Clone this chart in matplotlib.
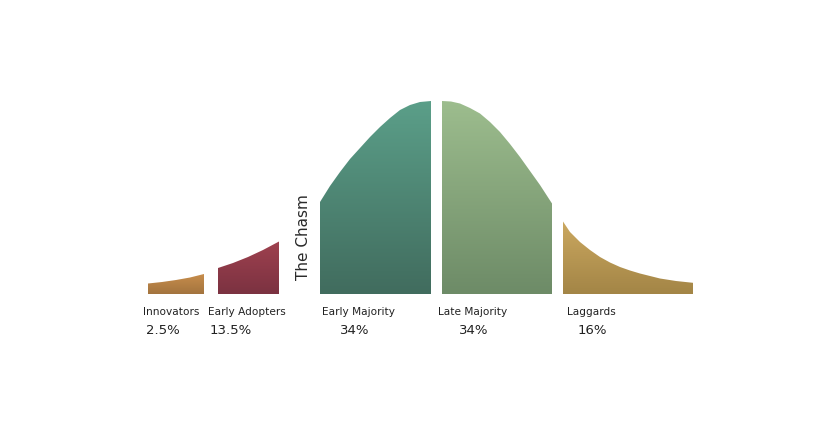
import numpy as np
import matplotlib
matplotlib.use("Agg")
import matplotlib.pyplot as plt
from matplotlib.colors import LinearSegmentedColormap

# ---- data ----
segments = ["Innovators", "Early Adopters", "Early Majority", "Late Majority", "Laggards"]
shares = ["2.5%", "13.5%", "34%", "34%", "16%"]

# curve profile of each segment: position along the adoption axis and height of the curve
innov_x = [148, 162, 176, 190, 204]
innov_h = [10.5, 12, 14, 16.5, 20]
early_ad_x = [218, 233, 248, 263, 279]
early_ad_h = [26, 31, 37, 44, 52.5]
early_maj_x = [320, 330, 340, 350, 360, 370, 380, 390, 400, 410, 420, 431]
early_maj_h = [92, 108, 122, 135, 146, 157, 167, 176, 184, 189, 192, 193]
late_maj_x = [442, 451, 460, 470, 480, 490, 500, 510, 520, 530, 540, 552]
late_maj_h = [193, 192.5, 190.5, 186, 180.5, 172, 162, 150, 137, 123, 109, 90.5]
lagg_x = [563, 570, 580, 590, 600, 610, 620, 630, 640, 650, 660, 676, 693]
lagg_h = [72.5, 62, 52, 44, 37, 31.5, 27, 23.5, 20.5, 18, 15.5, 13, 11.2]

chasm_label = "The Chasm"

# ---- styles ----
top_colors = ["#c78d4c", "#9f414f", "#5b9f89", "#9dbd8e", "#cba860"]
bot_colors = ["#a3743e", "#7b3241", "#416c5e", "#6d8b67", "#a38546"]
label_x = [171.5, 247, 359, 473, 591.5]
pct_x = [162.5, 231, 355, 474, 592.5]

profiles = [(innov_x, innov_h), (early_ad_x, early_ad_h), (early_maj_x, early_maj_h),
            (late_maj_x, late_maj_h), (lagg_x, lagg_h)]

fig = plt.figure(figsize=(8.4, 4.3), dpi=100)
ax = fig.add_axes([0, 0, 1, 1])
ax.set_xlim(0, 840)
ax.set_ylim(-136, 294)
ax.axis("off")

for i, (xs, hs) in enumerate(profiles):
    xs = np.asarray(xs, float)
    hs = np.asarray(hs, float)
    poly = ax.fill_between(xs, 0, hs, color="none", lw=0)
    cmap = LinearSegmentedColormap.from_list("g%d" % i, [bot_colors[i], top_colors[i]])
    grad = np.linspace(0, 1, 256).reshape(-1, 1)
    im = ax.imshow(grad, cmap=cmap, origin="lower", aspect="auto",
                   extent=[xs.min(), xs.max(), 0, hs.max()], interpolation="bilinear")
    im.set_clip_path(poly.get_paths()[0], transform=ax.transData)
    ax.text(label_x[i], -17.7, segments[i], ha="center", va="center",
            fontsize=7.6, color="#222222", family="DejaVu Sans")
    ax.text(pct_x[i], -36, shares[i], ha="center", va="center",
            fontsize=9.5, color="#222222", family="DejaVu Sans")

ax.text(303, 294 - 236.7, chasm_label, rotation=90, ha="center", va="center",
        fontsize=11, color="#2a2a2a", family="DejaVu Sans")

ax.set_xlim(0, 840)
ax.set_ylim(-136, 294)
fig.savefig("out.png", dpi=100, facecolor="white")
